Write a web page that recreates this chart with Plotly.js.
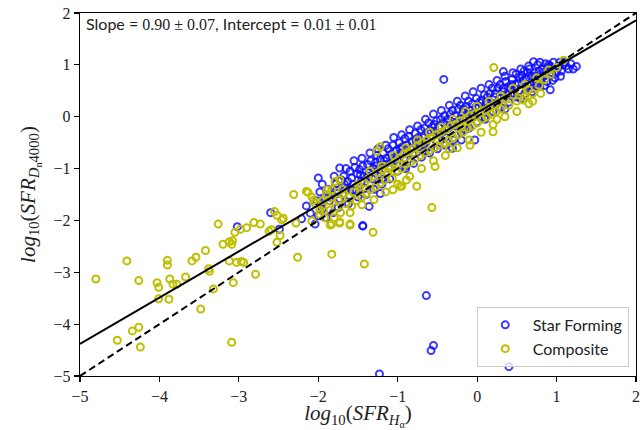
<!DOCTYPE html>
<html>
<head>
<meta charset="utf-8">
<script src="https://cdn.plot.ly/plotly-3.0.1.min.js"></script>
<style>html,body{margin:0;padding:0;background:#fff;}#chart{width:640px;height:430px;}</style>
</head>
<body>
<div id="chart"></div>
<script>
// Star Forming galaxies: [log10(SFR_Halpha), log10(SFR_Dn4000)]
const starForming = [
[-2.02,-1.62],[-1.98,-1.45],[-1.95,-1.78],[-1.92,-1.55],
[-1.88,-1.40],[-1.86,-1.62],[-1.83,-1.52],[-1.81,-1.85],
[-1.78,-1.30],[-1.76,-1.48],[-1.73,-1.58],[-1.71,-1.22],
[-1.68,-1.15],[-1.66,-1.38],[-1.63,-1.25],[-1.61,-1.52],[-1.60,-1.05],
[-1.58,-1.18],[-1.56,-1.30],[-1.54,-0.98],[-1.52,-1.42],[-1.51,-1.10],
[-1.48,-1.02],[-1.46,-1.25],[-1.44,-0.95],[-1.42,-1.15],[-1.41,-1.38],
[-1.38,-0.92],[-1.36,-1.08],[-1.34,-0.85],[-1.32,-1.20],[-1.31,-1.00],
[-1.28,-0.88],[-1.26,-0.75],[-1.24,-1.02],[-1.22,-0.82],[-1.21,-1.12],
[-1.18,-0.70],[-1.16,-0.92],[-1.14,-0.80],[-1.12,-0.62],[-1.11,-1.00],
[-1.08,-0.72],[-1.06,-0.55],[-1.04,-0.85],[-1.02,-0.65],[-1.01,-0.92],
[-0.98,-0.50],[-0.96,-0.70],[-0.94,-0.58],[-0.92,-0.80],[-0.91,-0.42],
[-0.88,-0.55],[-0.86,-0.38],[-0.84,-0.62],[-0.82,-0.48],[-0.81,-0.72],
[-0.78,-0.32],[-0.76,-0.50],[-0.74,-0.40],[-0.72,-0.58],[-0.71,-0.25],
[-0.68,-0.40],[-0.66,-0.22],[-0.64,-0.48],[-0.62,-0.30],[-0.61,-0.12],
[-0.58,-0.28],[-0.56,-0.38],[-0.54,-0.15],[-0.52,-0.45],[-0.51,-0.08],
[-0.48,-0.20],[-0.46,-0.05],[-0.44,-0.30],[-0.42,-0.12],[-0.41,0.02],
[-0.38,-0.10],[-0.36,-0.22],[-0.34,0.05],[-0.32,-0.15],[-0.31,0.12],
[-0.28,0.02],[-0.26,-0.10],[-0.24,0.15],[-0.22,-0.05],[-0.21,0.22],
[-0.18,0.08],[-0.16,-0.02],[-0.14,0.20],[-0.12,0.05],[-0.11,0.30],
[-0.08,0.12],[-0.06,0.25],[-0.04,0.02],[-0.02,0.18],[-0.01,0.35],
[0.02,0.20],[0.04,0.08],[0.06,0.32],[0.08,0.15],[0.09,0.42],
[0.12,0.28],[0.14,0.18],[0.16,0.45],[0.18,0.25],[0.19,0.55],
[0.22,0.38],[0.24,0.25],[0.26,0.55],[0.28,0.35],[0.29,0.62],
[0.32,0.48],[0.34,0.35],[0.36,0.68],[0.38,0.42],[0.39,0.58],
[0.42,0.55],[0.44,0.72],[0.46,0.45],[0.48,0.62],[0.49,0.82],
[0.52,0.65],[0.54,0.50],[0.56,0.80],[0.58,0.70],[0.59,0.88],
[0.62,0.75],[0.64,0.60],[0.66,0.92],[0.68,0.78],[0.69,0.48],
[0.72,0.85],[0.74,0.70],[0.76,1.00],[0.78,0.88],[0.79,0.58],
[0.82,0.92],[0.84,0.78],[0.86,1.02],[0.88,0.68],[0.89,0.95],
[0.92,0.98],[0.94,0.85],[0.96,1.05],[0.98,0.75],
[1.02,0.95],[1.04,1.05],[1.06,0.88],[1.08,1.00],
[1.12,0.98],[1.15,0.92],[1.18,1.02],
[-1.97,-1.70],[-1.87,-1.55],[-1.77,-1.42],[-1.67,-1.30],[-1.57,-1.42],[-1.47,-1.12],
[-1.37,-1.15],[-1.27,-0.95],[-1.17,-0.85],[-1.07,-0.80],[-0.97,-0.62],[-0.87,-0.70],
[-0.77,-0.45],[-0.67,-0.55],[-0.57,-0.20],[-0.47,-0.35],[-0.37,-0.05],[-0.27,-0.18],
[-0.17,0.15],[-0.07,0.05],[0.03,0.28],[0.13,0.38],[0.23,0.45],[0.33,0.55],[0.43,0.62],
[0.53,0.75],[0.63,0.85],[0.73,0.78],[0.83,0.85],[0.93,0.92],[1.03,0.98],[0.10,-0.05],
[-0.15,-0.25],[0.35,0.15],[0.55,0.35],[0.75,0.60],[-0.40,-0.40],[-0.65,-0.65],
[-0.90,-0.95],[-1.20,-1.20],
[-1.95,-1.30],[-1.90,-1.95],[-1.80,-1.15],[-1.75,-1.75],[-1.65,-1.00],[-1.62,-1.68],
[-1.55,-0.85],[-1.50,-1.55],[-1.45,-0.80],[-1.40,-1.50],[-1.35,-0.70],[-1.30,-1.40],
[-1.25,-0.62],[-1.20,-1.30],[-1.15,-0.55],[-1.10,-1.20],[-1.05,-0.40],[-1.00,-1.05],
[-0.95,-0.35],[-0.90,-1.00],[-0.85,-0.25],[-0.80,-0.90],[-0.75,-0.18],[-0.70,-0.78],
[-0.65,-0.05],[-0.60,-0.70],[-0.55,0.05],[-0.50,-0.62],[-0.45,0.12],[-0.40,-0.55],
[-0.35,0.22],[-0.30,-0.45],[-0.25,0.30],[-0.20,-0.30],[-0.15,0.40],[-0.10,-0.22],
[-0.05,0.48],[0.00,-0.10],[0.05,0.55],[0.10,0.00],[0.15,0.62],[0.20,0.10],
[0.25,0.70],[0.30,0.18],[0.35,0.78],[0.40,0.28],[0.45,0.85],[0.50,0.38],
[0.55,0.92],[0.60,0.45],[0.65,0.98],[0.70,0.55],[0.75,0.65],[0.80,0.72],
[0.85,0.60],[0.90,1.00],[0.95,0.70],[1.00,0.85],[1.10,1.05],[1.05,0.78],
[-0.42,0.72],[-2.00,-1.18],[-1.36,-1.73],[-1.44,-2.11],[1.25,0.97],[1.21,0.92],
[0.92,0.52],[0.71,1.06],[0.79,1.05],[0.33,0.87],[-0.03,-0.45],[-0.20,-0.45],
[-0.31,-0.61],[-1.22,-1.48],[-3.02,-2.12],[-2.21,-1.97],[-2.04,-2.07],[-1.44,-2.10],
[-2.60,-1.85],[-2.49,-2.17],[-2.15,-1.72],[-2.10,-1.86],[-2.00,-1.91],[-1.73,-0.99],
[-0.64,-3.45],[-0.55,-4.41],[-0.58,-4.51],[-1.23,-4.96],[0.40,-4.82]
];
// Composite galaxies: [log10(SFR_Halpha), log10(SFR_Dn4000)]
const composite = [
[-4.80,-3.13],[-4.41,-2.78],[-4.26,-3.16],[-4.53,-4.31],[-4.34,-4.13],[-4.26,-4.06],
[-4.24,-4.44],[-4.03,-3.20],[-4.01,-3.29],[-4.01,-3.51],[-3.90,-2.77],[-3.90,-2.86],
[-3.88,-3.52],[-3.87,-3.13],[-3.83,-3.23],[-3.78,-3.23],[-3.67,-3.09],[-3.59,-2.78],
[-3.54,-2.71],[-3.48,-3.71],[-3.42,-2.58],[-3.38,-2.93],[-3.37,-2.98],[-3.32,-3.32],
[-3.26,-2.07],[-3.20,-2.46],[-3.12,-2.41],[-3.09,-2.46],[-3.08,-2.39],[-3.12,-2.78],
[-3.07,-3.20],[-3.05,-2.23],[-3.09,-4.35],[-3.03,-2.81],[-2.98,-2.17],[-2.97,-2.79],
[-2.94,-2.81],[-2.90,-2.14],[-2.81,-2.04],[-2.79,-3.04],[-2.73,-2.07],[-2.62,-2.21],
[-2.59,-2.18],[-2.52,-2.42],[-2.48,-2.29],[-2.46,-1.99],[-2.26,-2.71],[-2.28,-2.05],
[-2.08,-2.01],[-2.55,-1.83],[-2.52,-1.90],
[-2.31,-1.50],[-2.13,-1.46],[-2.08,-1.55],[-2.04,-1.67],[-1.89,-1.41],[-1.98,-1.80],
[-2.06,-1.61],[-1.94,-1.61],[-1.83,-1.41],[-1.79,-1.25],[-1.73,-1.22],[-1.85,-2.09],
[-1.73,-2.05],[-1.60,-2.09],[-1.06,-1.41],[-0.97,-1.34],[-2.44,-1.96],[-2.15,-1.44],
[-1.83,-2.07],[-1.73,-2.03],[-1.60,-2.07],[-1.31,-2.23],[-1.83,-2.65],[-1.42,-2.84],
[-1.98,-1.88],[-1.95,-1.72],[-1.92,-1.95],[-1.88,-1.62],[-1.85,-1.80],[-1.82,-1.55],
[-1.78,-1.75],[-1.75,-1.60],[-1.72,-1.85],[-1.68,-1.48],[-1.65,-1.68],[-1.62,-1.55],
[-1.58,-1.72],[-1.55,-1.45],[-1.52,-1.62],
[-1.48,-1.35],[-1.45,-1.55],[-1.42,-1.28],[-1.40,-1.48],[-1.37,-1.20],[-1.34,-1.40],
[-1.31,-1.15],[-1.28,-1.35],[-1.25,-1.08],[-1.22,-1.28],[-1.19,-1.02],[-1.16,-1.22],
[-1.13,-1.10],[-1.10,-0.95],[-1.07,-1.18],[-1.04,-0.88],[-1.01,-1.05],
[-0.98,-0.80],[-0.95,-1.00],[-0.92,-0.72],[-0.90,-0.92],[-0.87,-0.68],[-0.84,-0.88],
[-0.81,-0.62],[-0.78,-0.82],[-0.75,-0.55],[-0.72,-0.75],[-0.69,-0.50],[-0.66,-0.70],
[-0.63,-0.45],[-0.60,-0.65],[-0.57,-0.40],[-0.54,-0.60],[-0.51,-0.35],
[-0.48,-0.55],[-0.45,-0.30],[-0.42,-0.50],[-0.39,-0.25],[-0.36,-0.45],[-0.33,-0.18],
[-0.30,-0.40],[-0.27,-0.15],[-0.24,-0.35],[-0.21,-0.08],[-0.18,-0.30],[-0.15,-0.05],
[-0.12,-0.22],[-0.09,0.02],[-0.06,-0.18],[-0.03,0.05],[0.00,-0.12],
[0.03,0.08],[0.06,-0.05],[0.09,0.12],[0.12,0.00],[0.15,0.18],[0.18,0.05],[0.21,0.22],
[0.24,0.10],[0.27,0.28],[0.30,0.15],[0.35,0.35],[0.40,0.22],[0.45,0.42],[0.50,0.30],
[0.55,0.48],[0.60,0.38],[0.65,0.52],[0.70,0.45],[0.78,0.60],[0.85,0.72],[0.92,0.82],
[1.00,0.95],
[-1.90,-1.50],[-1.80,-1.95],[-1.70,-1.40],[-1.60,-1.85],[-1.50,-1.30],[-1.45,-1.70],
[-1.35,-1.05],[-1.30,-1.60],[-1.20,-0.95],[-1.15,-1.45],[-1.05,-0.75],[-1.00,-1.30],
[-0.90,-0.60],[-0.85,-1.15],[-0.75,-0.45],[-0.70,-1.00],[-0.60,-0.30],[-0.55,-0.85],
[-0.45,-0.20],[-0.40,-0.75],[-0.30,-0.05],[-0.25,-0.60],[-0.15,0.10],[-0.10,-0.45],
[0.00,0.20],[0.05,-0.30],[0.15,0.30],[0.20,-0.15],[0.30,0.40],[0.35,0.00],
[0.45,0.55],[0.50,0.10],[0.60,0.62],[0.65,0.25],[0.75,0.75],[0.80,0.45],
[0.90,0.90],[0.70,0.30],[-0.20,-0.20],[-0.50,-0.45],[-0.80,-0.70],[-1.10,-1.00],
[-0.35,-0.62],[0.25,-0.05],
[0.21,0.95],[-0.09,-0.55],[-0.57,-1.75],[-0.76,-1.34],[-0.89,-1.22],[-0.95,-1.34],
[-0.53,-0.96],[0.20,-0.29],[0.58,0.32],[1.09,1.09],[-1.26,-0.67],[-1.22,-0.58]
];
// Fitted line and one-to-one line end points
const lineX = [-5, 2];
const fitY = [-4.38, 1.86];
const oneToOneY = [-5, 2];
const axisTicks = [-5, -4, -3, -2, -1, 0, 1, 2];
const annotationText = 'Slope = <span style="font-family:Liberation Serif">0.90 ± 0.07</span>, Intercept = <span style="font-family:Liberation Serif">0.01 ± 0.01</span>';

const traces = [
  {x: starForming.map(p => p[0]), y: starForming.map(p => p[1]), mode: 'markers', type: 'scatter',
   name: 'Star Forming',
   marker: {symbol: 'circle-open', size: 7, color: 'rgba(10,10,255,0.8)', line: {width: 2, color: 'rgba(10,10,255,0.8)'}}},
  {x: composite.map(p => p[0]), y: composite.map(p => p[1]), mode: 'markers', type: 'scatter',
   name: 'Composite',
   marker: {symbol: 'circle-open', size: 7, color: '#bfbf00', line: {width: 2, color: '#bfbf00'}}},
  {x: lineX, y: fitY, mode: 'lines', type: 'scatter', showlegend: false,
   line: {color: 'black', width: 2}},
  {x: lineX, y: oneToOneY, mode: 'lines', type: 'scatter', showlegend: false,
   line: {color: 'black', width: 2, dash: '7px,4px'}}
];

const axisCommon = {
  showgrid: false, zeroline: false, showline: true, mirror: true,
  linecolor: 'black', linewidth: 1.3, ticks: 'outside', ticklen: 5, tickwidth: 1.2,
  tickcolor: 'black', tickvals: axisTicks,
  tickfont: {family: 'Liberation Serif', size: 16, color: '#222'}
};

const layout = {
  width: 640, height: 430,
  margin: {l: 80, r: 4, t: 13, b: 54},
  paper_bgcolor: 'white', plot_bgcolor: 'white',
  showlegend: true,
  xaxis: Object.assign({}, axisCommon, {range: [-5, 2],
    title: {text: '<i>log</i><sub>10</sub>(<i>SFR</i><sub><i>H</i><sub>α</sub></sub>)', font: {family: 'Liberation Serif', size: 21, color: '#222'}, standoff: 6}}),
  yaxis: Object.assign({}, axisCommon, {range: [-5, 2],
    title: {text: '<i>log</i><sub>10</sub>(<i>SFR</i><sub><i>D</i><sub>n</sub>4000</sub>)', font: {family: 'Liberation Serif', size: 21, color: '#222'}, standoff: 12}}),
  legend: {x: 0.987, y: 0.025, xanchor: 'right', yanchor: 'bottom',
    bgcolor: 'rgba(255,255,255,0.8)', bordercolor: '#cccccc', borderwidth: 1,
    font: {family: 'Lato', size: 16, color: '#222'}, itemwidth: 45},
  annotations: [{xref: 'paper', yref: 'paper', x: 0.008, y: 0.97, xanchor: 'left', yanchor: 'middle',
    showarrow: false, text: annotationText, font: {family: 'Lato', size: 16, color: '#222'}}]
};

Plotly.newPlot('chart', traces, layout, {displayModeBar: false, staticPlot: true});
</script>
</body>
</html>
